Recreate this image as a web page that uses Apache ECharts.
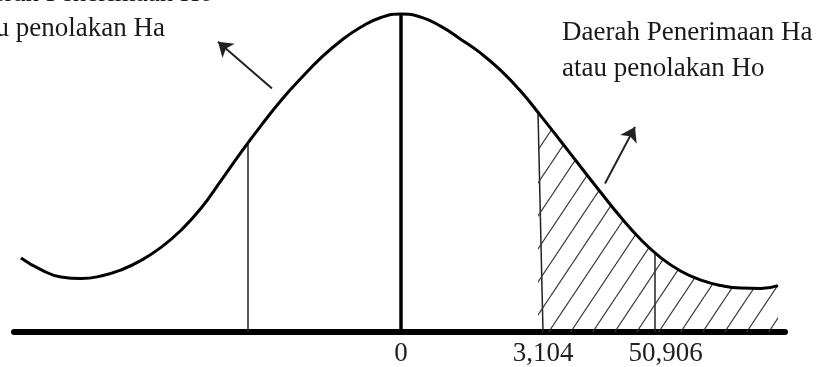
<!DOCTYPE html>
<html>
<head>
<meta charset="utf-8">
<script src="https://cdn.jsdelivr.net/npm/echarts@6/dist/echarts.min.js"></script>
<style>
  html, body { margin: 0; padding: 0; background: #fff; }
  #main { width: 818px; height: 367px; }
</style>
</head>
<body>
<div id="main"></div>
<script>
// curve (x: offset from centre, y: height with peak = 100)
const curveX = [-380, -360, -340, -320, -300, -280, -260, -240, -220, -200, -180, -160, -140, -120, -100, -80, -60, -40, -20, 0,
  20, 40, 60, 80, 100, 120, 140, 160, 180, 200, 220, 240, 260, 280, 300, 320, 340, 360, 377];
const curveY = [23.3, 19.6, 17.3, 16.8, 17.6, 19.5, 22.5, 26.6, 32.0, 38.9, 47.6, 56.5, 64.9, 72.8, 79.8, 86.2, 91.6, 95.9, 98.9, 100,
  99.0, 96.1, 92.0, 87.6, 82.2, 75.6, 67.9, 59.9, 51.8, 43.8, 36.0, 29.0, 23.3, 19.1, 16.3, 14.6, 13.8, 13.7, 14.6];

// vertical cut lines (base x, top x, top height)
const cutBaseX = [-153, 142, 254];
const cutTopX = [-153, 137, 254];
const cutTopY = [59.3, 69.1, 25.0];

// arrows: [tail, tip]
const arrowTails = [[-129, 76.6], [204, 46.7]];
const arrowTips = [[-183, 91.3], [234, 64.5]];

// axis labels
const tickValues = [0, 142, 264.5];
const tickLabels = ['0', '3,104', '50,906'];

const leftText = ['Daerah Penerimaan Ho', 'atau penolakan Ha'];
const rightText = ['Daerah Penerimaan Ha', 'atau penolakan Ho'];

const curveData = curveX.map((x, i) => [x, curveY[i]]);
// hatched region starts at the 3,104 cut
const hatchData = [[cutTopX[1], cutTopY[1]]].concat(curveData.filter(p => p[0] > cutTopX[1]));

// diagonal hatch pattern
const pat = document.createElement('canvas');
pat.width = 22;
pat.height = 33;
const pctx = pat.getContext('2d');
pctx.strokeStyle = '#333';
pctx.lineWidth = 1.2;
for (const dx of [-22, 0, 22]) {
  pctx.beginPath();
  pctx.moveTo(dx, 33);
  pctx.lineTo(dx + 22, 0);
  pctx.stroke();
}

const myChart = echarts.init(document.getElementById('main'));
const font = 'Liberation Serif, Times New Roman, serif';

const option = {
  animation: false,
  backgroundColor: '#fff',
  grid: { left: 14, right: 33, top: 14, bottom: 32 },
  xAxis: {
    type: 'value',
    min: -387,
    max: 384,
    splitLine: { show: false },
    axisTick: { show: false },
    axisLine: { show: true, lineStyle: { color: '#000', width: 6 } },
    axisLabel: {
      customValues: tickValues,
      formatter: (v) => tickLabels[tickValues.indexOf(v)] || '',
      color: '#222',
      fontFamily: font,
      fontSize: 27,
      margin: 8
    }
  },
  yAxis: { type: 'value', min: 0, max: 100, show: false },
  series: [
    {
      type: 'line',
      data: hatchData,
      smooth: 0.4,
      symbol: 'none',
      clip: false,
      lineStyle: { width: 0 },
      areaStyle: { color: { image: pat, repeat: 'repeat' }, opacity: 1 }
    },
    {
      type: 'line',
      data: curveData,
      smooth: 0.5,
      symbol: 'none',
      clip: false,
      lineStyle: { color: '#000', width: 3 }
    },
    {
      type: 'lines',
      coordinateSystem: 'cartesian2d',
      symbol: 'none',
      lineStyle: { color: '#000', width: 3.5, opacity: 1 },
      data: [{ coords: [[0, 0], [0, 100]] }]
    },
    {
      type: 'lines',
      coordinateSystem: 'cartesian2d',
      symbol: 'none',
      lineStyle: { color: '#222', width: 1.5, opacity: 1 },
      data: cutBaseX.map((x, i) => ({ coords: [[x, 0], [cutTopX[i], cutTopY[i]]] }))
    },
    {
      type: 'lines',
      coordinateSystem: 'cartesian2d',
      symbol: ['none', 'arrow'],
      symbolSize: 14,
      lineStyle: { color: '#222', width: 2, opacity: 1 },
      data: arrowTails.map((t, i) => ({ coords: [t, arrowTips[i]] }))
    }
  ],
  graphic: [
    { type: 'text', x: 213, y: -6.5, style: { text: leftText[0], font: '27px ' + font, fill: '#1a1a1a', textAlign: 'right', textVerticalAlign: 'middle' } },
    { type: 'text', x: 165, y: 29, style: { text: leftText[1], font: '27px ' + font, fill: '#1a1a1a', textAlign: 'right', textVerticalAlign: 'middle' } },
    { type: 'text', x: 562, y: 33, style: { text: rightText[0], font: '27px ' + font, fill: '#1a1a1a', textAlign: 'left', textVerticalAlign: 'middle' } },
    { type: 'text', x: 562, y: 69, style: { text: rightText[1], font: '27px ' + font, fill: '#1a1a1a', textAlign: 'left', textVerticalAlign: 'middle' } }
  ]
};

option && myChart.setOption(option);
</script>
</body>
</html>
